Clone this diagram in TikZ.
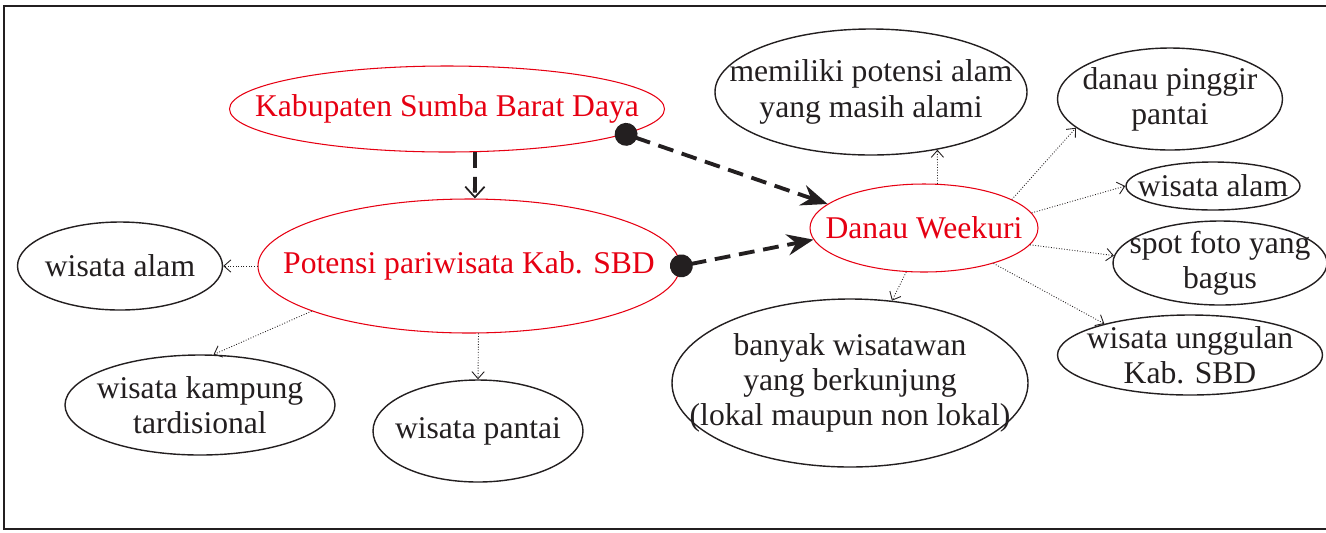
\documentclass[tikz,border=0pt]{standalone}
\usepackage{fontspec}
\setmainfont{Liberation Serif}
\usetikzlibrary{arrows.meta,shapes.geometric}
\definecolor{sbdred}{RGB}{230,0,18}
\definecolor{ink}{RGB}{35,31,32}
\begin{document}
\begin{tikzpicture}[
    font=\fontsize{18}{20}\selectfont,
    bubble/.style 2 args={ellipse, draw=ink, text=ink, line width=0.8pt, align=center,
        inner sep=-6cm, minimum width=#1, minimum height=#2},
    keybubble/.style 2 args={bubble={#1}{#2}, draw=sbdred, text=sbdred, line width=0.6pt},
    link/.style={-{Straight Barb[length=4pt,width=7pt]}, ink, line width=0.5pt, densely dotted},
    mainlink/.style={{Circle[length=13pt]}-{Stealth[length=15pt,width=12pt,inset=5pt]}, ink,
        line width=2.2pt, dash pattern=on 9pt off 5pt, shorten <=-6pt},
    downlink/.style={-{Straight Barb[length=6pt,width=11pt,line width=1pt]}, ink,
        line width=2.2pt, dash pattern=on 9pt off 5pt}
]
\useasboundingbox (0,0) rectangle (26.52,-10.64);
\draw[ink, line width=1pt] (27,-0.12) -| (0.08,-10.58) -- (27,-10.58);

% left side
\node[keybubble={8.7cm}{1.72cm}] (kab) at (8.94,-2.18) {Kabupaten Sumba Barat Daya};
\node[keybubble={8.44cm}{2.68cm}] (pot) at (9.38,-5.32) {Potensi pariwisata Kab. SBD};
\node[bubble={4.1cm}{1.76cm}] (alam1) at (2.4,-5.32) {wisata alam};
\node[bubble={5.4cm}{2.0cm}] (kampung) at (4.0,-8.1) {wisata kampung\\tardisional};
\node[bubble={4.2cm}{2.04cm}] (pantai) at (9.56,-8.62) {wisata pantai};

% right side
\node[keybubble={4.56cm}{1.76cm}] (danau) at (18.48,-4.56) {Danau Weekuri};
\node[bubble={6.24cm}{2.52cm}] (alami) at (17.42,-1.84) {memiliki potensi alam\\yang masih alami};
\node[bubble={4.5cm}{2.04cm}] (pinggir) at (23.4,-1.98) {danau pinggir\\pantai};
\node[bubble={3.48cm}{0.96cm}] (alam2) at (24.26,-3.72) {wisata alam};
\node[bubble={4.28cm}{1.68cm}] (spot) at (24.4,-5.26) {spot foto yang\\bagus};
\node[bubble={5.3cm}{1.6cm}] (unggul) at (23.8,-7.1) {wisata unggulan\\Kab. SBD};
\node[bubble={7.12cm}{3.36cm}] (banyak) at (17.0,-7.66) {banyak wisatawan\\yang berkunjung\\(lokal maupun non lokal)};

\draw[downlink] (kab.-57) -- (pot.85);
\draw[mainlink] (kab.-8) -- (danau.166);
\draw[mainlink] (pot.east) -- (danau.186);

\draw[link] (pot.west) -- (alam1.east);
\draw[link] (pot.-164) -- (kampung.75);
\draw[link] (pot.-82) -- (pantai.north);

\draw[link] (danau.73) -- (alami.-41);
\draw[link] (danau.18) -- (pinggir.197);
\draw[link] (danau.8) -- (alam2.west);
\draw[link] (danau.-9) -- (spot.176);
\draw[link] (danau.-27) -- (unggul.160);
\draw[link] (danau.-112) -- (banyak.63);
\end{tikzpicture}
\end{document}
